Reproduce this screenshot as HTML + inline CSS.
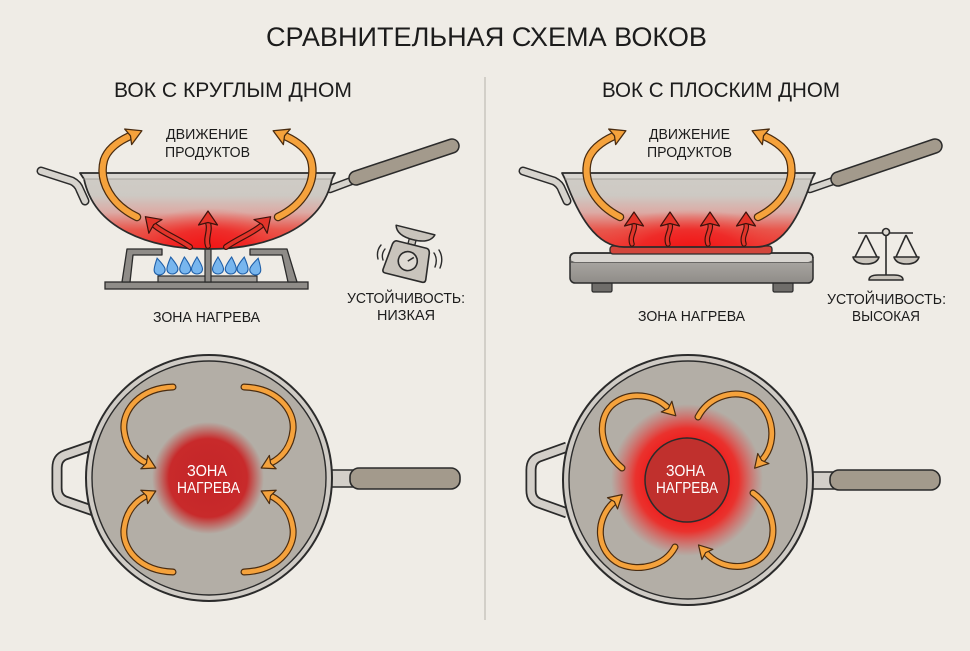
<!DOCTYPE html>
<html><head><meta charset="utf-8"><style>
html,body{margin:0;padding:0;background:#efece6;}
svg{display:block;}
text{font-family:"Liberation Sans","Noto Sans CJK SC",sans-serif;fill:#1c1c1c;}
</style></head><body>
<svg width="970" height="651" viewBox="0 0 970 651" xmlns="http://www.w3.org/2000/svg">
<defs>
  <polygon id="ahO" points="13,0 -2,-8.5 0.5,0 -2,8.5" fill="#f5a23c" stroke="#4a2c10" stroke-width="1.3" stroke-linejoin="round"/>
  <polygon id="ahOs" points="11,0 -2,-7.5 0.5,0 -2,7.5" fill="#f5a23c" stroke="#4a2c10" stroke-width="1.2" stroke-linejoin="round"/>
  <polygon id="ahR" points="12,0 -2,-9.5 0.5,0 -2,9.5" fill="#e2342a" stroke="#3e120c" stroke-width="1.2" stroke-linejoin="round"/>
  <linearGradient id="wokG" x1="0" y1="170" x2="0" y2="255" gradientUnits="userSpaceOnUse">
    <stop offset="0" stop-color="#d0cdc7"/>
    <stop offset="0.3" stop-color="#cdc9c3"/>
    <stop offset="0.5" stop-color="#dcaaa4"/>
    <stop offset="0.7" stop-color="#e8574d"/>
    <stop offset="1" stop-color="#ee2a24"/>
  </linearGradient>
  <radialGradient id="heatL" cx="208" cy="250" r="70" gradientUnits="userSpaceOnUse" gradientTransform="translate(208 250) scale(1.2 0.6) translate(-208 -250)">
    <stop offset="0" stop-color="#f21414" stop-opacity="1"/>
    <stop offset="0.5" stop-color="#f01e1e" stop-opacity="0.7"/>
    <stop offset="1" stop-color="#f04a40" stop-opacity="0"/>
  </radialGradient>
  <radialGradient id="heatR" cx="690" cy="250" r="90" gradientUnits="userSpaceOnUse" gradientTransform="translate(690 250) scale(1.1 0.45) translate(-690 -250)">
    <stop offset="0" stop-color="#f21414" stop-opacity="1"/>
    <stop offset="0.5" stop-color="#f01e1e" stop-opacity="0.7"/>
    <stop offset="1" stop-color="#f04a40" stop-opacity="0"/>
  </radialGradient>
  <clipPath id="clipL"><path d="M80,173 L335,173 L332,179 C322,228 268,249 208,249 C148,249 94,228 84,179 Z"/></clipPath>
  <clipPath id="clipR"><path d="M562,173 L815,173 L812,179 C800,215 784,247 756,247 L624,247 C596,247 578,215 565,179 Z"/></clipPath>
  <radialGradient id="glowL" cx="208" cy="478" r="56" gradientUnits="userSpaceOnUse">
    <stop offset="0" stop-color="#c42527"/>
    <stop offset="0.7" stop-color="#c82a2b"/>
    <stop offset="1" stop-color="#c83a36" stop-opacity="0"/>
  </radialGradient>
  <radialGradient id="glowR" cx="687" cy="480" r="76" gradientUnits="userSpaceOnUse">
    <stop offset="0.5" stop-color="#ee1c1c"/>
    <stop offset="0.68" stop-color="#f02420" stop-opacity="0.9"/>
    <stop offset="1" stop-color="#e84040" stop-opacity="0"/>
  </radialGradient>
  <linearGradient id="cookG" x1="0" y1="0" x2="0" y2="1">
    <stop offset="0" stop-color="#b2afaa"/>
    <stop offset="1" stop-color="#8f8c88"/>
  </linearGradient>
</defs>

<!-- Title -->
<text x="266" y="46" font-size="27" textLength="441" lengthAdjust="spacingAndGlyphs">СРАВНИТЕЛЬНАЯ СХЕМА ВОКОВ</text>
<text x="114" y="97" font-size="21" textLength="238" lengthAdjust="spacingAndGlyphs">ВОК С КРУГЛЫМ ДНОМ</text>
<text x="602" y="97" font-size="21" textLength="238" lengthAdjust="spacingAndGlyphs">ВОК С ПЛОСКИМ ДНОМ</text>
<line x1="485" y1="77" x2="485" y2="620" stroke="#c9c5be" stroke-width="1.5"/>

<!-- ========== LEFT TOP: round wok ========== -->
<path d="M41,171 L72,181 Q78,184 80,190 L85,201" fill="none" stroke="#2b2b2b" stroke-width="9" stroke-linecap="round" stroke-linejoin="round"/>
<path d="M41,171 L72,181 Q78,184 80,190 L85,201" fill="none" stroke="#d6d3cd" stroke-width="6" stroke-linecap="round" stroke-linejoin="round"/>
<line x1="330" y1="189" x2="354" y2="180" stroke="#2b2b2b" stroke-width="8.5" stroke-linecap="round"/>
<line x1="330" y1="189" x2="354" y2="180" stroke="#d6d3cd" stroke-width="5.5" stroke-linecap="round"/>
<line x1="356" y1="178" x2="452" y2="146" stroke="#2b2b2b" stroke-width="15.5" stroke-linecap="round"/>
<line x1="356" y1="178" x2="452" y2="146" stroke="#a39a8c" stroke-width="12.5" stroke-linecap="round"/>

<!-- burner -->
<rect x="105" y="282" width="203" height="7" fill="#8f8c88" stroke="#2b2b2b" stroke-width="1.3"/>
<polygon points="122,282 127,249 162,249 162,255 133,255 130,282" fill="#8f8c88" stroke="#2b2b2b" stroke-width="1.3" stroke-linejoin="round"/>
<polygon points="250,249 287,249 297,282 288,282 282,255 250,255" fill="#8f8c88" stroke="#2b2b2b" stroke-width="1.3" stroke-linejoin="round"/>
<rect x="158" y="276" width="99" height="6" fill="#a19e99" stroke="#2b2b2b" stroke-width="1.2"/>
<g fill="#78b6ee" stroke="#1f5fa8" stroke-width="1.1">
  <path transform="translate(159,267) rotate(-12)" d="M0,-9 C3,-4 5.5,0 5.5,3 C5.5,6 3,8 0,8 C-3,8 -5.5,6 -5.5,3 C-5.5,0 -3,-4 0,-9Z"/>
  <path transform="translate(172,266) rotate(-8)" d="M0,-9 C3,-4 5.5,0 5.5,3 C5.5,6 3,8 0,8 C-3,8 -5.5,6 -5.5,3 C-5.5,0 -3,-4 0,-9Z"/>
  <path transform="translate(185,266) rotate(-4)" d="M0,-9 C3,-4 5.5,0 5.5,3 C5.5,6 3,8 0,8 C-3,8 -5.5,6 -5.5,3 C-5.5,0 -3,-4 0,-9Z"/>
  <path transform="translate(197,266)" d="M0,-9 C3,-4 5.5,0 5.5,3 C5.5,6 3,8 0,8 C-3,8 -5.5,6 -5.5,3 C-5.5,0 -3,-4 0,-9Z"/>
  <path transform="translate(218,266)" d="M0,-9 C3,-4 5.5,0 5.5,3 C5.5,6 3,8 0,8 C-3,8 -5.5,6 -5.5,3 C-5.5,0 -3,-4 0,-9Z"/>
  <path transform="translate(231,266) rotate(4)" d="M0,-9 C3,-4 5.5,0 5.5,3 C5.5,6 3,8 0,8 C-3,8 -5.5,6 -5.5,3 C-5.5,0 -3,-4 0,-9Z"/>
  <path transform="translate(243,266) rotate(8)" d="M0,-9 C3,-4 5.5,0 5.5,3 C5.5,6 3,8 0,8 C-3,8 -5.5,6 -5.5,3 C-5.5,0 -3,-4 0,-9Z"/>
  <path transform="translate(256,267) rotate(14)" d="M0,-9 C3,-4 5.5,0 5.5,3 C5.5,6 3,8 0,8 C-3,8 -5.5,6 -5.5,3 C-5.5,0 -3,-4 0,-9Z"/>
</g>
<rect x="205" y="247" width="6" height="35" fill="#8f8c88" stroke="#2b2b2b" stroke-width="1.2"/>

<!-- wok body -->
<g clip-path="url(#clipL)">
  <rect x="75" y="170" width="265" height="85" fill="url(#wokG)"/>
  <rect x="75" y="170" width="265" height="85" fill="url(#heatL)"/>
  <rect x="75" y="173" width="265" height="6" fill="#d8d5d0"/>
</g>
<path d="M80,173 L335,173 L332,179 C322,228 268,249 208,249 C148,249 94,228 84,179 Z" fill="none" stroke="#2b2b2b" stroke-width="1.8" stroke-linejoin="round"/>
<line x1="83" y1="179" x2="332" y2="179" stroke="#9a9792" stroke-width="0.8"/>

<!-- red arrows left wok -->
<g fill="none" stroke-linecap="round">
  <path d="M208,246 C205,238 211,230 208,223" stroke="#3e120c" stroke-width="6"/>
  <path d="M208,246 C205,238 211,230 208,223" stroke="#e2342a" stroke-width="3.6"/>
  <path d="M190,247 C177,238 163,233 154,225" stroke="#3e120c" stroke-width="6"/>
  <path d="M190,247 C177,238 163,233 154,225" stroke="#e2342a" stroke-width="3.6"/>
  <path d="M226,247 C239,238 253,233 262,225" stroke="#3e120c" stroke-width="6"/>
  <path d="M226,247 C239,238 253,233 262,225" stroke="#e2342a" stroke-width="3.6"/>
</g>
<use href="#ahR" transform="translate(208,223) rotate(-90)"/>
<use href="#ahR" transform="translate(154,225) rotate(-136)"/>
<use href="#ahR" transform="translate(262,225) rotate(-44)"/>

<!-- orange arrows left wok -->
<g fill="none" stroke-linecap="round">
  <path d="M137,217 C112,205 98,182 104,160 C108,148 119,141 130,136" stroke="#4a2c10" stroke-width="8.5"/>
  <path d="M137,217 C112,205 98,182 104,160 C108,148 119,141 130,136" stroke="#f5a23c" stroke-width="6"/>
  <path d="M278,217 C303,205 317,182 311,160 C307,148 296,141 285,136" stroke="#4a2c10" stroke-width="8.5"/>
  <path d="M278,217 C303,205 317,182 311,160 C307,148 296,141 285,136" stroke="#f5a23c" stroke-width="6"/>
</g>
<use href="#ahO" transform="translate(130,136) rotate(-24)"/>
<use href="#ahO" transform="translate(285,136) rotate(204)"/>

<text x="166" y="139" font-size="14.5" textLength="82" lengthAdjust="spacingAndGlyphs">ДВИЖЕНИЕ</text>
<text x="165" y="157" font-size="14.5" textLength="85" lengthAdjust="spacingAndGlyphs">ПРОДУКТОВ</text>
<text x="153" y="322" font-size="15" textLength="107" lengthAdjust="spacingAndGlyphs">ЗОНА НАГРЕВА</text>

<!-- unstable scale icon -->
<g transform="rotate(14 408 256)">
  <path d="M389,229 L429,229 C427,236 420,239 409,239 C398,239 391,236 389,229 Z" fill="#c9c4bc" stroke="#2b2b2b" stroke-width="1.5" stroke-linejoin="round"/>
  <rect x="405" y="239" width="7" height="5" fill="#c9c4bc" stroke="#2b2b2b" stroke-width="1.3"/>
  <path d="M394,244 L424,244 Q427,244 428,248 L431,275 Q431,278 428,278 L390,278 Q387,278 387,275 L390,248 Q391,244 394,244 Z" fill="#c9c4bc" stroke="#2b2b2b" stroke-width="1.6" stroke-linejoin="round"/>
  <circle cx="409" cy="261" r="9.5" fill="#dedad3" stroke="#2b2b2b" stroke-width="1.6"/>
  <line x1="409" y1="261" x2="414" y2="256" stroke="#2b2b2b" stroke-width="1.5"/>
</g>
<g fill="none" stroke="#2b2b2b" stroke-width="1.4" stroke-linecap="round">
  <path d="M381,245 Q376,251 378,259"/>
  <path d="M385,249 Q381,254 383,260"/>
  <path d="M434,253 Q438,259 435,267"/>
  <path d="M439,250 Q444,258 440,268"/>
</g>
<text x="347" y="303" font-size="15" textLength="118" lengthAdjust="spacingAndGlyphs">УСТОЙЧИВОСТЬ:</text>
<text x="377" y="320" font-size="15" textLength="58" lengthAdjust="spacingAndGlyphs">НИЗКАЯ</text>

<!-- ========== RIGHT TOP: flat wok ========== -->
<path d="M523,171 L554,181 Q560,184 562,190 L567,201" fill="none" stroke="#2b2b2b" stroke-width="9" stroke-linecap="round" stroke-linejoin="round"/>
<path d="M523,171 L554,181 Q560,184 562,190 L567,201" fill="none" stroke="#d6d3cd" stroke-width="6" stroke-linecap="round" stroke-linejoin="round"/>
<line x1="810" y1="189" x2="836" y2="180" stroke="#2b2b2b" stroke-width="8.5" stroke-linecap="round"/>
<line x1="810" y1="189" x2="836" y2="180" stroke="#d6d3cd" stroke-width="5.5" stroke-linecap="round"/>
<line x1="838" y1="179" x2="935" y2="146" stroke="#2b2b2b" stroke-width="15.5" stroke-linecap="round"/>
<line x1="838" y1="179" x2="935" y2="146" stroke="#a39a8c" stroke-width="12.5" stroke-linecap="round"/>

<!-- cooktop -->
<rect x="592" y="280" width="20" height="12" rx="1.5" fill="#6f6d6a" stroke="#2b2b2b" stroke-width="1.2"/>
<rect x="773" y="280" width="20" height="12" rx="1.5" fill="#6f6d6a" stroke="#2b2b2b" stroke-width="1.2"/>
<rect x="570" y="253" width="243" height="30" rx="5" fill="url(#cookG)" stroke="#2b2b2b" stroke-width="1.5"/>
<path d="M571,262 L812,262" stroke="#2b2b2b" stroke-width="1"/>
<rect x="571" y="254" width="241" height="8" rx="4" fill="#d9d6d1"/>
<path d="M570,258 Q570,253 575,253 L808,253 Q813,253 813,258" fill="none" stroke="#2b2b2b" stroke-width="1.5"/>
<rect x="610" y="246" width="162" height="8" rx="3" fill="#d2463c" stroke="#2b2b2b" stroke-width="1.3"/>

<g clip-path="url(#clipR)">
  <rect x="555" y="170" width="265" height="85" fill="url(#wokG)"/>
  <rect x="555" y="170" width="265" height="85" fill="url(#heatR)"/>
  <rect x="555" y="173" width="265" height="6" fill="#d8d5d0"/>
</g>
<path d="M562,173 L815,173 L812,179 C800,215 784,247 756,247 L624,247 C596,247 578,215 565,179 Z" fill="none" stroke="#2b2b2b" stroke-width="1.8" stroke-linejoin="round"/>
<line x1="565" y1="179" x2="812" y2="179" stroke="#9a9792" stroke-width="0.8"/>

<g fill="none" stroke-linecap="round">
  <path d="M632,244 C629,236 636,230 634,224" stroke="#3e120c" stroke-width="5.5"/>
  <path d="M632,244 C629,236 636,230 634,224" stroke="#e2342a" stroke-width="3.2"/>
  <path d="M668,244 C665,236 672,230 670,224" stroke="#3e120c" stroke-width="5.5"/>
  <path d="M668,244 C665,236 672,230 670,224" stroke="#e2342a" stroke-width="3.2"/>
  <path d="M708,244 C705,236 712,230 710,224" stroke="#3e120c" stroke-width="5.5"/>
  <path d="M708,244 C705,236 712,230 710,224" stroke="#e2342a" stroke-width="3.2"/>
  <path d="M744,244 C741,236 748,230 746,224" stroke="#3e120c" stroke-width="5.5"/>
  <path d="M744,244 C741,236 748,230 746,224" stroke="#e2342a" stroke-width="3.2"/>
</g>
<use href="#ahR" transform="translate(634,224) rotate(-90)"/>
<use href="#ahR" transform="translate(670,224) rotate(-90)"/>
<use href="#ahR" transform="translate(710,224) rotate(-90)"/>
<use href="#ahR" transform="translate(746,224) rotate(-90)"/>

<g fill="none" stroke-linecap="round">
  <path d="M620,217 C596,205 582,182 588,160 C592,148 603,141 614,136" stroke="#4a2c10" stroke-width="8.5"/>
  <path d="M620,217 C596,205 582,182 588,160 C592,148 603,141 614,136" stroke="#f5a23c" stroke-width="6"/>
  <path d="M758,217 C782,205 796,182 790,160 C786,148 775,141 764,136" stroke="#4a2c10" stroke-width="8.5"/>
  <path d="M758,217 C782,205 796,182 790,160 C786,148 775,141 764,136" stroke="#f5a23c" stroke-width="6"/>
</g>
<use href="#ahO" transform="translate(614,136) rotate(-24)"/>
<use href="#ahO" transform="translate(764,136) rotate(204)"/>

<text x="649" y="139" font-size="14.5" textLength="81" lengthAdjust="spacingAndGlyphs">ДВИЖЕНИЕ</text>
<text x="647" y="157" font-size="14.5" textLength="85" lengthAdjust="spacingAndGlyphs">ПРОДУКТОВ</text>
<text x="638" y="321" font-size="15" textLength="107" lengthAdjust="spacingAndGlyphs">ЗОНА НАГРЕВА</text>

<!-- balance icon -->
<g stroke="#2b2b2b" stroke-width="1.6" fill="none" stroke-linejoin="round">
  <line x1="886" y1="232" x2="886" y2="276"/>
  <line x1="858" y1="233" x2="913" y2="233"/>
  <path d="M866,235 L855,257 M866,235 L877,257"/>
  <path d="M906,235 L896,257 M906,235 L917,257"/>
  <path d="M853,257 L879,257 Q877,264 866,264 Q855,264 853,257 Z" fill="#c9c4bc"/>
  <path d="M894,257 L919,257 Q917,264 906.5,264 Q896,264 894,257 Z" fill="#c9c4bc"/>
  <path d="M869,280 Q869,275 878,275 L894,275 Q903,275 903,280 Z" fill="#c9c4bc"/>
  <circle cx="886" cy="232" r="3.5" fill="#dedad3"/>
</g>
<text x="827" y="304" font-size="15" textLength="119" lengthAdjust="spacingAndGlyphs">УСТОЙЧИВОСТЬ:</text>
<text x="852" y="321" font-size="15" textLength="68" lengthAdjust="spacingAndGlyphs">ВЫСОКАЯ</text>

<!-- ========== BOTTOM LEFT: top view ========== -->
<path d="M94,445 L65,455 Q57,458 57,468 L57,488 Q57,498 65,501 L94,511" fill="none" stroke="#2b2b2b" stroke-width="11" stroke-linejoin="round"/>
<path d="M94,445 L65,455 Q57,458 57,468 L57,488 Q57,498 65,501 L94,511" fill="none" stroke="#d3cfc9" stroke-width="7.5" stroke-linejoin="round"/>
<rect x="328" y="470" width="28" height="17" fill="#d3cfc9" stroke="#2b2b2b" stroke-width="1.5"/>
<rect x="350" y="468" width="110" height="21" rx="9" fill="#a39a8c" stroke="#2b2b2b" stroke-width="1.6"/>
<circle cx="209" cy="478" r="123" fill="#cfcbc5" stroke="#2b2b2b" stroke-width="2"/>
<circle cx="209" cy="478" r="117" fill="#b3aea6" stroke="#2b2b2b" stroke-width="1.4"/>
<circle cx="208" cy="478" r="56" fill="url(#glowL)"/>
<g fill="none" stroke-linecap="round">
  <path d="M173,387 C140,388 122,410 124,430 C126,448 136,458 146,463" stroke="#4a2c10" stroke-width="7"/>
  <path d="M173,387 C140,388 122,410 124,430 C126,448 136,458 146,463" stroke="#f5a23c" stroke-width="4.6"/>
  <path d="M244,387 C277,388 295,410 293,430 C291,448 281,458 271,463" stroke="#4a2c10" stroke-width="7"/>
  <path d="M244,387 C277,388 295,410 293,430 C291,448 281,458 271,463" stroke="#f5a23c" stroke-width="4.6"/>
  <path d="M173,572 C140,571 122,549 124,529 C126,511 136,501 146,496" stroke="#4a2c10" stroke-width="7"/>
  <path d="M173,572 C140,571 122,549 124,529 C126,511 136,501 146,496" stroke="#f5a23c" stroke-width="4.6"/>
  <path d="M244,572 C277,571 295,549 293,529 C291,511 281,501 271,496" stroke="#4a2c10" stroke-width="7"/>
  <path d="M244,572 C277,571 295,549 293,529 C291,511 281,501 271,496" stroke="#f5a23c" stroke-width="4.6"/>
</g>
<use href="#ahOs" transform="translate(146,463) rotate(27)"/>
<use href="#ahOs" transform="translate(271,463) rotate(153)"/>
<use href="#ahOs" transform="translate(146,496) rotate(-27)"/>
<use href="#ahOs" transform="translate(271,496) rotate(-153)"/>
<text x="187" y="476" font-size="16" textLength="40" lengthAdjust="spacingAndGlyphs" style="fill:#fff">ЗОНА</text>
<text x="177" y="493" font-size="16" textLength="63" lengthAdjust="spacingAndGlyphs" style="fill:#fff">НАГРЕВА</text>

<!-- ========== BOTTOM RIGHT: top view ========== -->
<path d="M567,447 L539,457 Q531,460 531,470 L531,490 Q531,500 539,503 L567,513" fill="none" stroke="#2b2b2b" stroke-width="11" stroke-linejoin="round"/>
<path d="M567,447 L539,457 Q531,460 531,470 L531,490 Q531,500 539,503 L567,513" fill="none" stroke="#d3cfc9" stroke-width="7.5" stroke-linejoin="round"/>
<rect x="806" y="472" width="30" height="17" fill="#d3cfc9" stroke="#2b2b2b" stroke-width="1.5"/>
<rect x="830" y="470" width="110" height="20" rx="9" fill="#a39a8c" stroke="#2b2b2b" stroke-width="1.6"/>
<circle cx="688" cy="480" r="125" fill="#cfcbc5" stroke="#2b2b2b" stroke-width="2"/>
<circle cx="688" cy="480" r="119" fill="#b3aea6" stroke="#2b2b2b" stroke-width="1.4"/>
<circle cx="687" cy="480" r="76" fill="url(#glowR)"/>
<circle cx="687" cy="480" r="42" fill="#c0302d" stroke="#2b2b2b" stroke-width="1.5"/>
<g fill="none" stroke-linecap="round">
  <path d="M622,468 C600,450 596,420 612,405 C630,390 655,395 668,408" stroke="#4a2c10" stroke-width="7"/>
  <path d="M622,468 C600,450 596,420 612,405 C630,390 655,395 668,408" stroke="#f5a23c" stroke-width="4.6"/>
  <path d="M698,417 C708,398 730,390 748,396 C772,405 780,440 762,460" stroke="#4a2c10" stroke-width="7"/>
  <path d="M698,417 C708,398 730,390 748,396 C772,405 780,440 762,460" stroke="#f5a23c" stroke-width="4.6"/>
  <path d="M753,493 C775,508 780,540 762,557 C745,572 720,568 706,553" stroke="#4a2c10" stroke-width="7"/>
  <path d="M753,493 C775,508 780,540 762,557 C745,572 720,568 706,553" stroke="#f5a23c" stroke-width="4.6"/>
  <path d="M675,547 C665,566 640,572 620,564 C596,552 594,520 614,502" stroke="#4a2c10" stroke-width="7"/>
  <path d="M675,547 C665,566 640,572 620,564 C596,552 594,520 614,502" stroke="#f5a23c" stroke-width="4.6"/>
</g>
<use href="#ahOs" transform="translate(668,408) rotate(45)"/>
<use href="#ahOs" transform="translate(762,460) rotate(132)"/>
<use href="#ahOs" transform="translate(706,553) rotate(-133)"/>
<use href="#ahOs" transform="translate(614,502) rotate(-42)"/>
<text x="666" y="476" font-size="16" textLength="39" lengthAdjust="spacingAndGlyphs" style="fill:#fff">ЗОНА</text>
<text x="656" y="493" font-size="16" textLength="62" lengthAdjust="spacingAndGlyphs" style="fill:#fff">НАГРЕВА</text>
</svg>
</body></html>
